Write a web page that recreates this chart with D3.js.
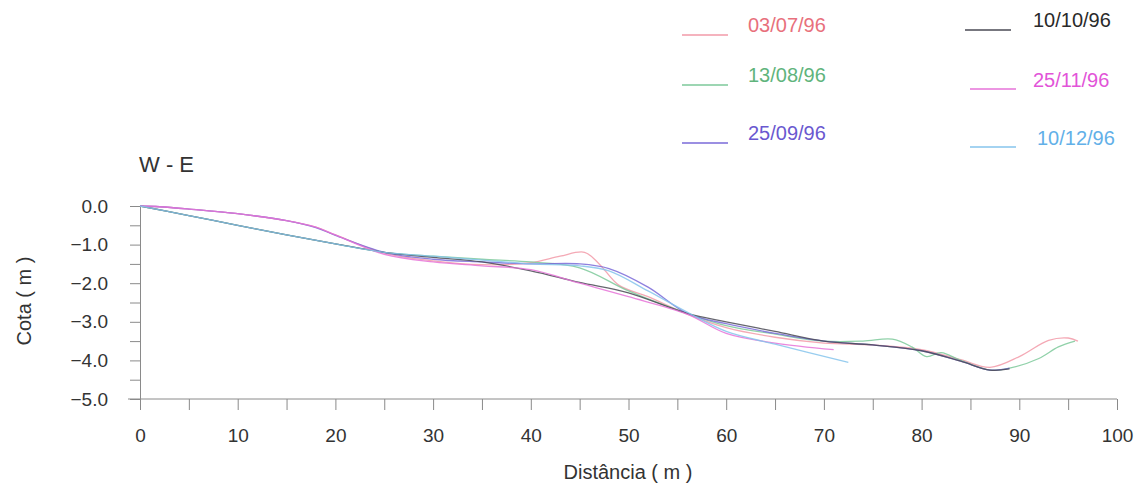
<!DOCTYPE html>
<html>
<head>
<meta charset="utf-8">
<script src="https://cdn.jsdelivr.net/npm/d3@7"></script>
<style>
  html, body { margin: 0; padding: 0; background: #fff; }
  svg { display: block; font-family: "Liberation Sans", Arial, sans-serif; }
</style>
</head>
<body>
<svg id="chart" width="1141" height="486"></svg>
<script>
// Profile W - E: elevation (Cota) against distance for six survey dates
const seriesNames = ["03/07/96", "13/08/96", "25/09/96", "10/10/96", "25/11/96", "10/12/96"];
const lineColors  = ["#f29aa8", "#7cc99a", "#7a6ad8", "#4a4a55", "#e673d8", "#86c4ec"];
const textColors  = ["#e8707c", "#5fb47c", "#6a58d0", "#2a2a2a", "#e254d8", "#62b0e8"];

const dist0307 = [0, 2, 5, 10, 15, 18, 20, 25, 30, 35, 40, 43, 45.5, 47, 49, 52, 56, 60, 65, 70, 75, 80, 84, 87, 90, 93, 95, 96];
const cota0307 = [0, -0.02, -0.08, -0.2, -0.38, -0.55, -0.75, -1.22, -1.42, -1.52, -1.47, -1.3, -1.2, -1.5, -2.05, -2.35, -2.8, -3.15, -3.4, -3.55, -3.6, -3.72, -3.98, -4.18, -3.9, -3.48, -3.42, -3.5];

const dist1308 = [0, 5, 10, 15, 20, 25, 30, 35, 40, 45, 50, 56, 60, 65, 70, 74, 77, 79, 80.5, 82, 84, 87, 89, 92, 94, 95.7];
const cota1308 = [0, -0.25, -0.5, -0.75, -0.98, -1.2, -1.3, -1.38, -1.45, -1.6, -2.2, -2.78, -3.1, -3.32, -3.5, -3.5, -3.45, -3.65, -3.9, -3.8, -4.0, -4.25, -4.2, -3.95, -3.65, -3.5];

const dist2509 = [0, 2, 5, 10, 15, 18, 20, 25, 30, 35, 40, 45, 48, 52, 56, 60, 65, 70, 75, 80, 84, 87, 89];
const cota2509 = [0, -0.02, -0.08, -0.2, -0.38, -0.56, -0.76, -1.2, -1.38, -1.45, -1.5, -1.5, -1.62, -2.1, -2.78, -3.05, -3.3, -3.5, -3.6, -3.75, -4.02, -4.25, -4.2];

const dist1010 = [0, 5, 10, 15, 20, 25, 30, 35, 40, 45, 50, 56, 60, 65, 70, 75, 80, 84, 87, 89];
const cota1010 = [0, -0.25, -0.5, -0.75, -0.98, -1.2, -1.33, -1.45, -1.68, -1.98, -2.25, -2.78, -3.0, -3.25, -3.5, -3.6, -3.75, -4.02, -4.25, -4.22];

const dist2511 = [0, 2, 5, 10, 15, 18, 20, 25, 30, 35, 40, 45, 50, 56, 60, 65, 71];
const cota2511 = [0, -0.02, -0.08, -0.2, -0.38, -0.55, -0.75, -1.25, -1.45, -1.55, -1.65, -2.0, -2.35, -2.8, -3.3, -3.55, -3.72];

const dist1012 = [0, 5, 10, 15, 20, 25, 30, 35, 40, 45, 48, 52, 56, 60, 65, 72.5];
const cota1012 = [0, -0.25, -0.5, -0.75, -0.98, -1.2, -1.3, -1.4, -1.5, -1.55, -1.68, -2.2, -2.75, -3.25, -3.58, -4.05];

const distances = [dist0307, dist1308, dist2509, dist1010, dist2511, dist1012];
const elevations = [cota0307, cota1308, cota2509, cota1010, cota2511, cota1012];

const xTicks = d3.range(0, 101, 5);
const yTicks = d3.range(0, -5.01, -0.5);

const svg = d3.select("#chart");
const x = d3.scaleLinear().domain([0, 100]).range([140, 1117]);
const y = d3.scaleLinear().domain([-5, 0]).range([399, 206]);

// Axes
const xAxis = d3.axisBottom(x)
  .tickValues(xTicks)
  .tickSize(11)
  .tickSizeOuter(0)
  .tickPadding(19)
  .tickFormat(d => d % 10 === 0 ? d : "");
const gx = svg.append("g").attr("transform", `translate(0,${y(-5)})`).call(xAxis);
gx.select(".domain").attr("d", `M128,0H${x(100)}`);
gx.selectAll(".tick text").attr("font-size", 19);

const yAxis = d3.axisLeft(y)
  .tickValues(yTicks)
  .tickSize(10)
  .tickSizeOuter(0)
  .tickPadding(22)
  .tickFormat(d => Math.abs(d % 1) < 1e-9 ? d3.format(".1f")(d) : "");
const gy = svg.append("g").attr("transform", `translate(${x(0)},0)`).call(yAxis);
gy.selectAll(".tick text").attr("font-size", 19);

svg.selectAll(".domain, .tick line").attr("stroke", "#8a8a8a").attr("stroke-width", 1);
svg.selectAll(".tick text").attr("fill", "#333")
  .attr("font-family", "'Liberation Sans', Arial, sans-serif");

// Profiles
const line = d3.line()
  .x(d => x(d[0]))
  .y(d => y(d[1]))
  .curve(d3.curveCatmullRom.alpha(0.5));

seriesNames.forEach((name, i) => {
  const pts = distances[i].map((d, j) => [d, elevations[i][j]]);
  svg.append("path")
    .datum(pts)
    .attr("fill", "none")
    .attr("stroke", lineColors[i])
    .attr("stroke-width", 1.3)
    .attr("stroke-opacity", 0.85)
    .attr("d", line);
});

// Titles
svg.append("text").attr("x", 139).attr("y", 172)
  .attr("font-size", 22).attr("fill", "#333").text("W - E");

svg.append("text")
  .attr("transform", "translate(31,301) rotate(-90)")
  .attr("text-anchor", "middle").attr("font-size", 20).attr("fill", "#333")
  .text("Cota ( m )");

svg.append("text").attr("x", 628).attr("y", 479)
  .attr("text-anchor", "middle").attr("font-size", 20).attr("fill", "#333")
  .text("Distância ( m )");

// Legend: two columns of three entries
const legendPos = [
  { lx: 682, ly: 35, tx: 748, ty: 32 },
  { lx: 682, ly: 85, tx: 748, ty: 82 },
  { lx: 682, ly: 143, tx: 748, ty: 140 },
  { lx: 965, ly: 30, tx: 1033, ty: 27 },
  { lx: 970, ly: 89, tx: 1033, ty: 87 },
  { lx: 970, ly: 147, tx: 1037, ty: 145 }
];
seriesNames.forEach((name, i) => {
  const p = legendPos[i];
  svg.append("line")
    .attr("x1", p.lx).attr("x2", p.lx + 46)
    .attr("y1", p.ly).attr("y2", p.ly)
    .attr("stroke", lineColors[i]).attr("stroke-width", 1.5);
  svg.append("text")
    .attr("x", p.tx).attr("y", p.ty)
    .attr("font-size", 20).attr("fill", textColors[i])
    .text(name);
});
</script>
</body>
</html>
